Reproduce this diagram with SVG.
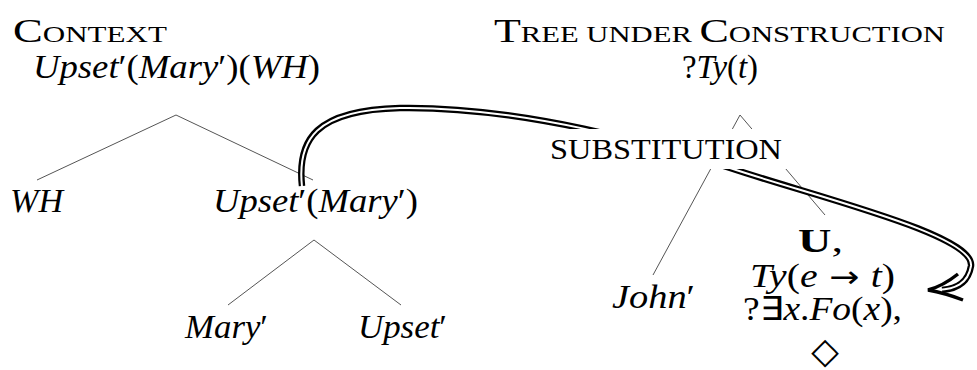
<svg xmlns="http://www.w3.org/2000/svg" width="977" height="370" viewBox="0 0 977 370">
<style>
text{font-family:"Liberation Serif","Times New Roman",serif;fill:#000}
.m{font-size:33px}
.i{font-style:italic}
.sc{font-size:23px}
.big{font-size:33px}
.sym{font-family:"DejaVu Sans",sans-serif}
.edge{stroke:#555;stroke-width:1;fill:none}
.dbo{stroke:#000;stroke-width:6.5;fill:none;stroke-linecap:butt}
.dbi{stroke:#fff;stroke-width:2;fill:none;stroke-linecap:butt}
</style>
<g id="edges">
<line class="edge" x1="176" y1="115" x2="37" y2="180"/>
<line class="edge" x1="176" y1="115" x2="313" y2="180"/>
<line class="edge" x1="314" y1="240" x2="228" y2="305"/>
<line class="edge" x1="314" y1="240" x2="401" y2="305"/>
<line class="edge" x1="740" y1="115" x2="653" y2="275"/>
<line class="edge" x1="740" y1="115" x2="825" y2="215"/>
</g>
<g id="connector">
<path class="dbo" d="M 302,186 C 297,140 315,110 400,108 C 520,106 660,145 730,168 C 820,198 975,235 971,266 C 968,284 955,289 942,290"/>
<path class="dbi" d="M 302,187 C 297,140 315,110 400,108 C 520,106 660,145 730,168 C 820,198 975,235 971,266 C 968,284 955,289 938,290"/>
<path d="M 958,274 Q 943,286 928,290 Q 945,293 963,300" fill="none" stroke="#000" stroke-width="3.4" stroke-linejoin="miter"/>
</g>
<g id="context-title"><text x="13" y="42" textLength="154" lengthAdjust="spacingAndGlyphs"><tspan class="big">C</tspan><tspan class="sc">ONTEXT</tspan></text></g>
<g id="context-root"><text class="m" x="33" y="78" textLength="287" lengthAdjust="spacingAndGlyphs"><tspan class="i">Upset</tspan>′(<tspan class="i">Mary</tspan>′)(<tspan class="i">WH</tspan>)</text></g>
<g id="wh"><text class="m i" x="10" y="212" textLength="53" lengthAdjust="spacingAndGlyphs">WH</text></g>
<g id="upset-mary"><text class="m" x="213" y="212" textLength="205" lengthAdjust="spacingAndGlyphs"><tspan class="i">Upset</tspan>′(<tspan class="i">Mary</tspan>′)</text></g>
<g id="mary"><text class="m" x="185" y="338" textLength="83" lengthAdjust="spacingAndGlyphs"><tspan class="i">Mary</tspan>′</text></g>
<g id="upset"><text class="m" x="358" y="338" textLength="89" lengthAdjust="spacingAndGlyphs"><tspan class="i">Upset</tspan>′</text></g>
<g id="tree-title"><text x="494" y="42" textLength="451" lengthAdjust="spacingAndGlyphs"><tspan class="big">T</tspan><tspan class="sc">REE UNDER </tspan><tspan class="big">C</tspan><tspan class="sc">ONSTRUCTION</tspan></text></g>
<g id="tree-root"><text class="m" x="682" y="78" textLength="76" lengthAdjust="spacingAndGlyphs">?<tspan class="i">Ty</tspan>(<tspan class="i">t</tspan>)</text></g>
<g id="substitution">
<rect x="545" y="129" width="245" height="40" fill="#fff"/>
<text x="550" y="159" font-size="29" textLength="232" lengthAdjust="spacingAndGlyphs">SUBSTITUTION</text>
</g>
<g id="john"><text class="m" x="612" y="308" textLength="83" lengthAdjust="spacingAndGlyphs"><tspan class="i">John</tspan>′</text></g>
<g id="predicate">
<text class="m" x="798" y="252" textLength="45" lengthAdjust="spacingAndGlyphs"><tspan font-weight="bold">U</tspan>,</text>
<text class="m" x="750" y="287" textLength="145" lengthAdjust="spacingAndGlyphs"><tspan class="i">Ty</tspan>(<tspan class="i">e</tspan><tspan class="sym" font-size="30"> → </tspan><tspan class="i">t</tspan>)</text>
<text class="m" x="743" y="320" textLength="159" lengthAdjust="spacingAndGlyphs">?∃<tspan class="i">x</tspan>.<tspan class="i">Fo</tspan>(<tspan class="i">x</tspan>),</text>
<text x="825" y="363" font-size="36" text-anchor="middle" class="sym">◇</text>
</g>
</svg>
